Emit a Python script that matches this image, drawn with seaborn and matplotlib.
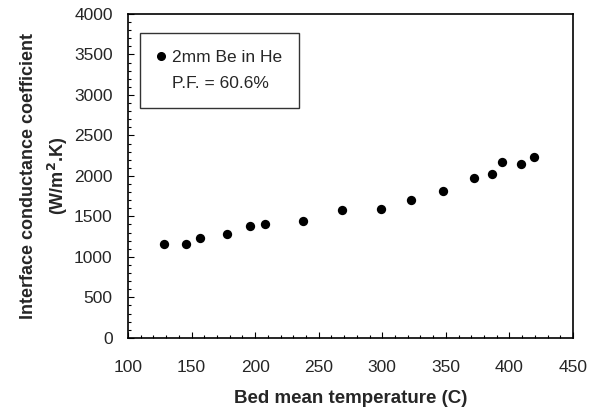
import numpy as np
import pandas as pd
import matplotlib
matplotlib.use("Agg")
import matplotlib.pyplot as plt
import seaborn as sns
from matplotlib.lines import Line2D
from matplotlib.ticker import MultipleLocator

# Data
temperature = [128, 146, 157, 178, 196, 208, 238, 268, 299, 323, 348, 372, 386, 394, 409, 419]
conductance = [1165, 1153, 1236, 1285, 1376, 1405, 1438, 1579, 1595, 1702, 1814, 1979, 2029, 2169, 2153, 2236]
series_label = "2mm Be in He"
note_label = "P.F. = 60.6%"

df = pd.DataFrame({"T": temperature, "h": conductance})

sns.set_style("ticks")
plt.rcParams['font.family'] = ['Liberation Sans', 'DejaVu Sans']

fig = plt.figure(figsize=(5.95, 4.11), dpi=100)
ax = fig.add_axes([0.215, 0.178, 0.748, 0.788])

sns.scatterplot(data=df, x="T", y="h", ax=ax, color="black", s=45,
                edgecolor="black", linewidth=0, legend=False)

ax.set_xlim(100, 450)
ax.set_ylim(0, 4000)
ax.xaxis.set_major_locator(MultipleLocator(50))
ax.yaxis.set_major_locator(MultipleLocator(500))
ax.xaxis.set_minor_locator(MultipleLocator(10))
ax.yaxis.set_minor_locator(MultipleLocator(100))
ax.tick_params(which="both", direction="in", color="black", width=0.8)
ax.tick_params(which="major", length=4, labelsize=12.5)
ax.tick_params(axis="x", which="major", pad=16)
ax.tick_params(axis="y", which="major", pad=11)
ax.tick_params(which="minor", length=2)
for sp in ax.spines.values():
    sp.set_color("black")
    sp.set_linewidth(1.2)

ax.set_xlabel("Bed mean temperature (C)", fontsize=13.5, fontweight="bold", labelpad=11)
ax.set_ylabel("Interface conductance coefficient\n(W/m$^\\mathbf{2}$.K)", fontsize=13,
              fontweight="bold", labelpad=3, linespacing=1.45)

handles = [Line2D([], [], marker="o", color="black", linestyle="none", markersize=5.5),
           Line2D([], [], linestyle="none")]
leg = ax.legend(handles, [series_label, note_label], loc="upper left",
                bbox_to_anchor=(0.027, 0.941), frameon=True, fancybox=False,
                edgecolor="black", fontsize=12.5, borderpad=0.95,
                handlelength=0.5, handletextpad=0.4, labelspacing=0.65,
                borderaxespad=0)
leg.get_frame().set_linewidth(1.0)

fig.savefig("out.png", dpi=100)
